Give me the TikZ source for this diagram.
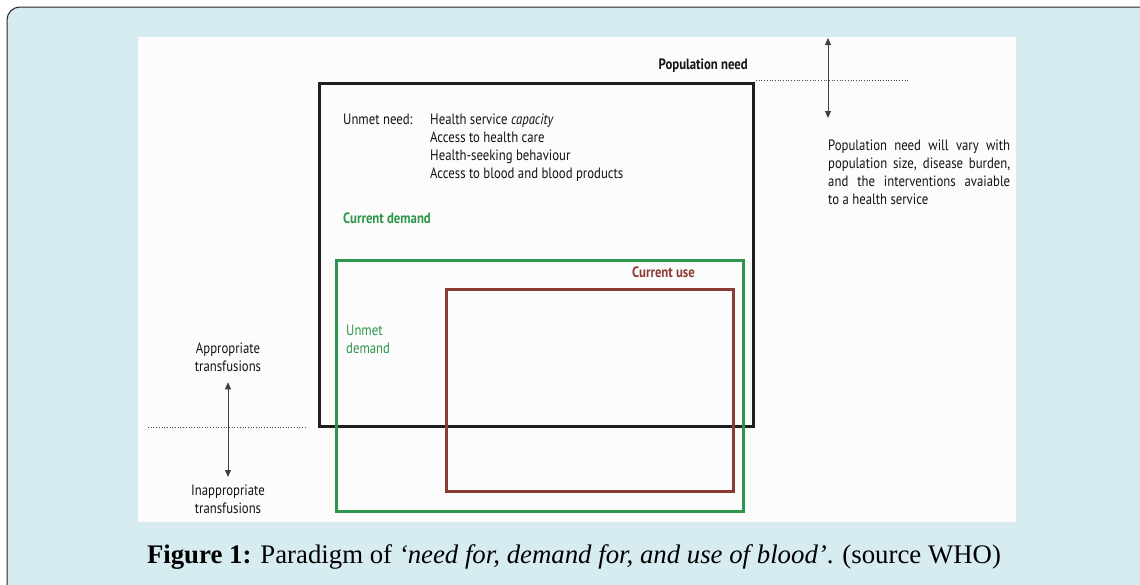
\documentclass[tikz,border=0pt]{standalone}
\usepackage{fontspec}
\setmainfont{Liberation Serif}
\setsansfont[FakeStretch=0.85]{PT Sans}
\usepackage{xcolor}
\usepackage{tikz}
\usetikzlibrary{positioning,calc,arrows.meta}
\definecolor{panelblue}{RGB}{215,236,241}
\definecolor{paperwhite}{RGB}{252,252,252}
\definecolor{demandgreen}{RGB}{44,150,74}
\definecolor{usered}{RGB}{140,58,52}

\begin{document}
\begin{tikzpicture}[x=1pt,y=-1pt,
    lbl/.style={font=\sffamily\fontsize{15}{18}\selectfont, inner sep=0pt, text=black!92},
    boldlbl/.style={lbl, font=\sffamily\bfseries\fontsize{15}{18}\selectfont},
    region/.style={line width=3pt, inner sep=0pt, anchor=north west},
    span/.style={<->, >={Triangle[length=7pt,width=6pt]}, line width=0.8pt, black!75},
    guide/.style={dotted, line width=0.7pt, black!70}]
    \useasboundingbox (0,0) rectangle (1140,584);
    \clip (0,0) rectangle (1140,584);
    % panel and scanned page
    \draw[black!85, line width=1pt, fill=panelblue, rounded corners=13pt] (7,7) rectangle (1170,610);
    \fill[paperwhite] (138,37) rectangle (1016,522);

    % the three regions
    \node[region, draw=black!88, minimum width=434pt, minimum height=343pt] (need) at (318,82) {};
    \node[region, draw=demandgreen, minimum width=407pt, minimum height=251pt] (demand) at (335,259) {};
    \node[region, draw=usered, minimum width=287pt, minimum height=202pt] (use) at (445,288) {};

    % labels
    \node[boldlbl, anchor=south east] (needlbl) at (748,73) {Population need};
    \node[lbl, anchor=north west] (unmet) at (343,114) {Unmet need:};
    \node[lbl, anchor=north west, align=left] (factors) at (430,114) {Health service \textit{capacity}\\Access to health care\\Health-seeking behaviour\\Access to blood and blood products};
    \node[boldlbl, text=demandgreen, anchor=north west] (demandlbl) at (343,213) {Current demand};
    \node[lbl, text=demandgreen, anchor=north west, align=left] (unmetdemand) at (346,325) {Unmet\\demand};
    \node[boldlbl, text=usered, anchor=north west] (uselbl) at (632,267) {Current use};

    \node[lbl, anchor=north west, align=left] (popnote) at (828,140) {%
        \makebox[182pt][s]{Population need will vary with}\\
        \makebox[182pt][s]{population size, disease burden,}\\
        \makebox[182pt][s]{and the interventions avaiable}\\
        to a health service};

    \node[lbl, anchor=north, align=center] (appr) at (228,343) {Appropriate\\transfusions};
    \node[lbl, anchor=north, align=center] (inappr) at (228,485) {Inappropriate\\transfusions};

    % guides and arrows
    \coordinate (popa) at (828,38);
    \coordinate (popb) at (828,118);
    \draw[span] (popa) -- (popb);
    \coordinate (dotr) at (908,80);
    \draw[guide] ([xshift=1pt]need.north east |- dotr) -- (dotr);
    \coordinate (dotl) at (148,427);
    \draw[guide] (dotl) -- (307,427);
    \draw[span, shorten <=10pt, shorten >=8pt] (appr.south) -- (inappr.north);

    % caption
    \node[inner sep=0pt, font=\fontsize{26.8}{30}\selectfont] (caption) at (574,557) {\textbf{Figure 1:} Paradigm of \textit{`need for, demand for, and use of blood'}. (source WHO)};
\end{tikzpicture}
\end{document}
